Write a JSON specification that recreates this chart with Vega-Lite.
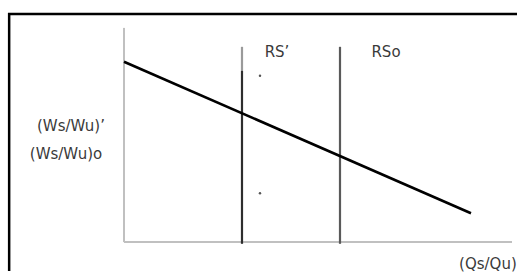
{
  "$schema": "https://vega.github.io/schema/vega-lite/v6.json",
  "width": 517,
  "height": 272,
  "padding": 0,
  "autosize": {"type": "fit", "contains": "padding"},
  "background": "white",
  "config": {"view": {"stroke": null}},
  "datasets": {
    "frame": [{"x": -2.96, "x2": 10.4, "y": 10.65, "y2": -1.6}],
    "axes": [
      {"name": "yaxis", "x": 0, "x2": 0, "y": 0, "y2": 10},
      {"name": "xaxis", "x": 0, "x2": 10, "y": 0, "y2": 0}
    ],
    "supply": [
      {"name": "RS' top", "x": 3.041, "y": 8.0, "y2": 9.116, "part": "light"},
      {"name": "RS' low", "x": 3.041, "y": -0.08, "y2": 8.0, "part": "dark"},
      {"name": "RSo", "x": 5.567, "y": -0.08, "y2": 9.116, "part": "mid"}
    ],
    "demand": [
      {"x": 0, "y": 8.419},
      {"x": 8.943, "y": 1.349}
    ],
    "labels": [
      {"text": "RS’", "x": 3.943, "y": 8.884},
      {"text": "RSo", "x": 6.753, "y": 8.884},
      {"text": "(Ws/Wu)’", "x": -1.366, "y": 5.442},
      {"text": "(Ws/Wu)o", "x": -1.495, "y": 4.093},
      {"text": "(Qs/Qu)", "x": 9.38, "y": -1.023}
    ],
    "dots": [
      {"x": 3.505, "y": 7.767},
      {"x": 3.505, "y": 2.279}
    ]
  },
  "layer": [
    {
      "data": {"name": "frame"},
      "mark": {"type": "rect", "fill": null, "stroke": "black", "strokeWidth": 2.5, "clip": true},
      "encoding": {
        "x": {"field": "x", "type": "quantitative", "scale": {"domain": [-3.196, 10.129], "nice": false, "zero": false}, "axis": null},
        "x2": {"field": "x2"},
        "y": {"field": "y", "type": "quantitative", "scale": {"domain": [-1.349, 11.302], "nice": false, "zero": false}, "axis": null},
        "y2": {"field": "y2"}
      }
    },
    {
      "data": {"name": "axes"},
      "mark": {"type": "rule", "color": "#c0c0c0", "strokeWidth": 2},
      "encoding": {
        "x": {"field": "x", "type": "quantitative"},
        "x2": {"field": "x2"},
        "y": {"field": "y", "type": "quantitative"},
        "y2": {"field": "y2"}
      }
    },
    {
      "data": {"name": "supply"},
      "mark": {"type": "rule", "strokeWidth": 2.2},
      "encoding": {
        "x": {"field": "x", "type": "quantitative"},
        "y": {"field": "y", "type": "quantitative"},
        "y2": {"field": "y2"},
        "color": {"field": "part", "type": "nominal", "scale": {"domain": ["light", "dark", "mid"], "range": ["#9a9a9a", "#2e2e2e", "#5a5a5a"]}, "legend": null}
      }
    },
    {
      "data": {"name": "demand"},
      "mark": {"type": "line", "color": "black", "strokeWidth": 2.6},
      "encoding": {
        "x": {"field": "x", "type": "quantitative"},
        "y": {"field": "y", "type": "quantitative"}
      }
    },
    {
      "data": {"name": "labels"},
      "mark": {"type": "text", "font": "DejaVu Sans", "fontSize": 15, "color": "#3a3a3a", "align": "center", "baseline": "middle"},
      "encoding": {
        "x": {"field": "x", "type": "quantitative"},
        "y": {"field": "y", "type": "quantitative"},
        "text": {"field": "text"}
      }
    },
    {
      "data": {"name": "dots"},
      "mark": {"type": "point", "filled": true, "color": "#555555", "size": 6, "opacity": 1},
      "encoding": {
        "x": {"field": "x", "type": "quantitative"},
        "y": {"field": "y", "type": "quantitative"}
      }
    }
  ]
}
